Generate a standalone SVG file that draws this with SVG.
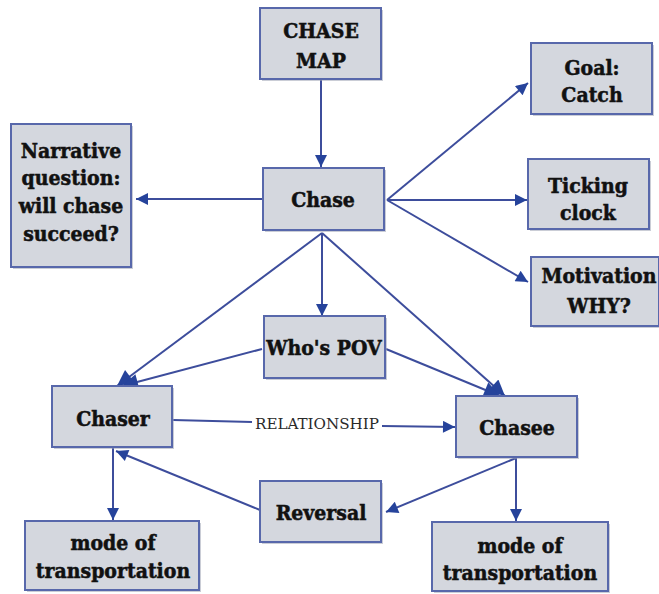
<svg xmlns="http://www.w3.org/2000/svg" width="659" height="594" viewBox="0 0 659 594">
<defs>
<style>
.box{fill:#d4d7de;stroke:#5868ab;stroke-width:2}
.sh{fill:#9ea4b4;opacity:0.55}
.t{font-family:"DejaVu Serif Condensed","DejaVu Serif",serif;font-weight:bold;font-size:21px;fill:#111;stroke:#111;stroke-width:0.5;text-anchor:middle}
.rel{font-family:"DejaVu Serif Condensed","Liberation Serif",serif;font-size:15px;fill:#2a2a2a;text-anchor:middle}
.e{stroke:#3d4d9c;stroke-width:2;fill:none}
.a{marker-end:url(#ah)}
.A{marker-end:url(#AH)}
</style>
<marker id="ah" viewBox="0 0 10 10" refX="10" refY="5" markerUnits="userSpaceOnUse" markerWidth="16" markerHeight="12" orient="auto"><path d="M0,0 L10,5 L0,10 z" fill="#26439b"/></marker>
<marker id="AH" viewBox="0 0 10 10" refX="10" refY="5" markerUnits="userSpaceOnUse" markerWidth="20" markerHeight="16" orient="auto"><path d="M0,0 L10,5 L0,10 z" fill="#26439b"/></marker>
</defs>
<rect width="659" height="594" fill="#ffffff"/>
<g id="connectors">
<line class="e a" x1="321" y1="80" x2="321" y2="167"/>
<line class="e a" x1="262" y1="199" x2="136" y2="199"/>
<line class="e a" x1="387" y1="200" x2="528" y2="83"/>
<line class="e a" x1="387" y1="200" x2="527" y2="200"/>
<line class="e a" x1="387" y1="200" x2="528" y2="282"/>
<line class="e A" x1="322" y1="233" x2="117" y2="386"/>
<line class="e a" x1="322" y1="233" x2="322" y2="316"/>
<line class="e A" x1="322" y1="233" x2="505" y2="396"/>
<line class="e A" x1="262" y1="349" x2="122" y2="386"/>
<line class="e A" x1="386" y1="349" x2="500" y2="396"/>
<line class="e" x1="173" y1="420" x2="252" y2="422"/>
<line class="e a" x1="382" y1="426" x2="455" y2="427"/>
<line class="e a" x1="113" y1="448" x2="113" y2="520"/>
<line class="e a" x1="260" y1="510" x2="116" y2="451"/>
<line class="e a" x1="516" y1="458" x2="386" y2="512"/>
<line class="e a" x1="516" y1="458" x2="516" y2="521"/>
<text class="rel" x="317" y="429" textLength="124" lengthAdjust="spacingAndGlyphs">RELATIONSHIP</text>
</g>
<g id="n-chasemap">
<rect class="sh" x="262" y="10" width="121" height="71"/>
<rect class="box" x="260" y="8" width="121" height="71"/>
<text class="t" x="321" y="38">CHASE</text>
<text class="t" x="321" y="68">MAP</text>
</g>
<g id="n-chase">
<rect class="sh" x="265" y="170" width="121" height="62"/>
<rect class="box" x="263" y="168" width="121" height="62"/>
<text class="t" x="323" y="207">Chase</text>
</g>
<g id="n-narrative">
<rect class="sh" x="13" y="126" width="120" height="143"/>
<rect class="box" x="11" y="124" width="120" height="143"/>
<text class="t" x="71" y="158">Narrative</text>
<text class="t" x="71" y="185">question:</text>
<text class="t" x="71" y="213">will chase</text>
<text class="t" x="71" y="241">succeed?</text>
</g>
<g id="n-goal">
<rect class="sh" x="533" y="45" width="121" height="71"/>
<rect class="box" x="531" y="43" width="121" height="71"/>
<text class="t" x="592" y="75">Goal:</text>
<text class="t" x="592" y="102">Catch</text>
</g>
<g id="n-ticking">
<rect class="sh" x="530" y="161" width="121" height="70"/>
<rect class="box" x="528" y="159" width="121" height="70"/>
<text class="t" x="588" y="193">Ticking</text>
<text class="t" x="588" y="220">clock</text>
</g>
<g id="n-motivation">
<rect class="sh" x="533" y="259" width="128" height="69"/>
<rect class="box" x="531" y="257" width="128" height="69"/>
<text class="t" x="599" y="283">Motivation</text>
<text class="t" x="599" y="313">WHY?</text>
</g>
<g id="n-pov">
<rect class="sh" x="266" y="318" width="121" height="62"/>
<rect class="box" x="264" y="316" width="121" height="62"/>
<text class="t" x="324" y="355">Who's POV</text>
</g>
<g id="n-chaser">
<rect class="sh" x="54" y="388" width="120" height="61"/>
<rect class="box" x="52" y="386" width="120" height="61"/>
<text class="t" x="113" y="426">Chaser</text>
</g>
<g id="n-chasee">
<rect class="sh" x="458" y="398" width="121" height="61"/>
<rect class="box" x="456" y="396" width="121" height="61"/>
<text class="t" x="517" y="435">Chasee</text>
</g>
<g id="n-reversal">
<rect class="sh" x="262" y="483" width="121" height="61"/>
<rect class="box" x="260" y="481" width="121" height="61"/>
<text class="t" x="321" y="520">Reversal</text>
</g>
<g id="n-mode-left">
<rect class="sh" x="27" y="523" width="174" height="69"/>
<rect class="box" x="25" y="521" width="174" height="69"/>
<text class="t" x="113" y="550">mode of</text>
<text class="t" x="113" y="578">transportation</text>
</g>
<g id="n-mode-right">
<rect class="sh" x="434" y="524" width="176" height="69"/>
<rect class="box" x="432" y="522" width="176" height="69"/>
<text class="t" x="520" y="553">mode of</text>
<text class="t" x="520" y="580">transportation</text>
</g>
</svg>
